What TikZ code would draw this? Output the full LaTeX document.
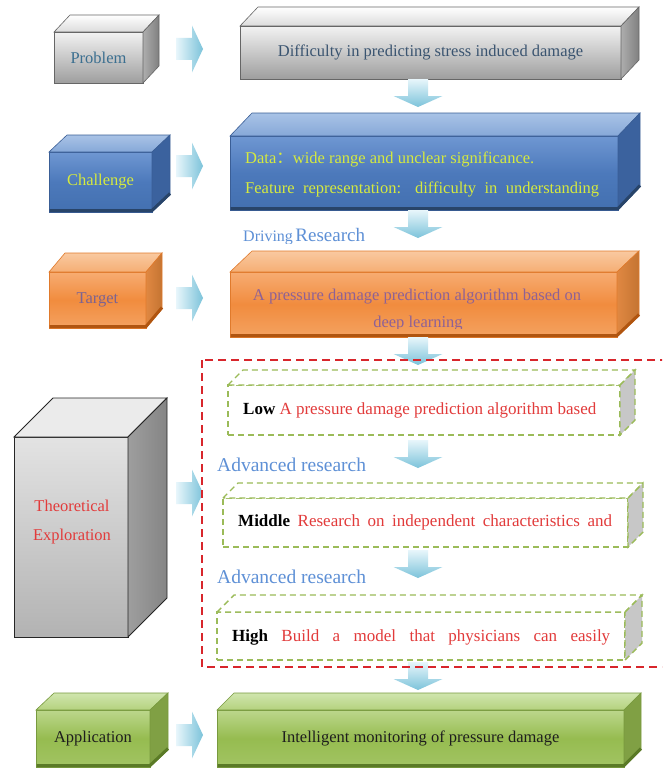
\documentclass[tikz,border=0pt]{standalone}
\usepackage{fontspec}
\setmainfont{Liberation Serif}
\newfontfamily\cjk{Noto Sans CJK SC}
\usetikzlibrary{calc}
\definecolor{probc}{HTML}{3B6F90}
\definecolor{diffc}{HTML}{3A5470}
\definecolor{chalc}{HTML}{D6EA3E}
\definecolor{targc}{HTML}{7C6392}
\definecolor{algc}{HTML}{8E6196}
\definecolor{appc}{HTML}{1E1E1E}
\definecolor{redt}{HTML}{E23B3B}
\definecolor{advc}{HTML}{5E90D6}
\definecolor{arrl}{HTML}{E8F6FB}
\definecolor{arrd}{HTML}{7CC3DA}
\definecolor{reddash}{HTML}{D8262C}
\definecolor{grdash}{HTML}{9BBB59}
\definecolor{bfa}{HTML}{6F97D2}\definecolor{bfb}{HTML}{4C79BB}\definecolor{bfc}{HTML}{4370B0}
\definecolor{bbord}{HTML}{3A5E96}\definecolor{bta}{HTML}{A9C3E6}\definecolor{btb}{HTML}{86A8D8}
\definecolor{bside}{HTML}{3B629E}\definecolor{bstripe}{HTML}{284469}
\definecolor{ofa}{HTML}{F7AC72}\definecolor{ofb}{HTML}{F18C3E}\definecolor{ofc}{HTML}{F4A261}
\definecolor{obord}{HTML}{E07A2C}\definecolor{ota}{HTML}{F9C9A0}\definecolor{otb}{HTML}{F5AE74}
\definecolor{osa}{HTML}{E08842}\definecolor{osb}{HTML}{C47432}\definecolor{ostripe}{HTML}{B05510}
\definecolor{gfa}{HTML}{BCD78C}\definecolor{gfb}{HTML}{96BC50}\definecolor{gfc}{HTML}{A2C463}
\definecolor{gbord}{HTML}{789A3E}\definecolor{gta}{HTML}{D0E5AE}\definecolor{gtb}{HTML}{B4D27E}
\definecolor{gside}{HTML}{80A044}\definecolor{gstripe}{HTML}{5A7A26}
\newcommand\cubetop[4]{\path[#4] (#1.north west) -- ++(#2,-#3) -- ($(#1.north east)+(#2,-#3)$) -- (#1.north east) -- cycle;}
\newcommand\cubeside[4]{\path[#4] (#1.north east) -- ++(#2,-#3) -- ($(#1.south east)+(#2,-#3)$) -- (#1.south east) -- cycle;}
\newcommand\cubestripe[4]{\draw[line width=3pt,#4] ($(#1.south west)+(0.5,-1.5)$) -- ($(#1.south east)+(0,-1.5)$) -- ($(#1.south east)+(#2,-#3-1.5)$);}
\newcommand\rarr[1]{\path[rarrow] (#1) ++(0,-11) -- ++(16,0) -- ++(0,-12.5) -- ++(11,23.5) -- ++(-11,23.5) -- ++(0,-12.5) -- ++(-16,0) -- cycle;}
\newcommand\darr[1]{\path[darrow] (#1) ++(-10,0) -- ++(20,0) -- ++(0,17) -- ++(14.5,0) -- ++(-24.5,11) -- ++(-24.5,-11) -- ++(14.5,0) -- cycle;}
\tikzset{
  txt/.style={font=\fontsize{16.5}{19}\selectfont},
  face/.style={txt, inner sep=0pt, outer sep=0pt, anchor=north west, line width=0.6pt},
  grayfront/.style={face, draw=black!60, top color=black!5, bottom color=black!38},
  graytop/.style={draw=black!60, line width=0.6pt, top color=white, bottom color=black!14},
  grayside/.style={draw=black!60, line width=0.6pt, left color=black!32, right color=black!50},
  bluefront/.style={face, draw=bbord, top color=bfa, bottom color=bfc, middle color=bfb},
  bluetop/.style={draw=bbord, line width=0.6pt, top color=bta, bottom color=btb},
  blueside/.style={draw=bbord, line width=0.6pt, fill=bside},
  orfront/.style={face, draw=obord, top color=ofa, bottom color=ofc, middle color=ofb},
  ortop/.style={draw=obord, line width=0.6pt, top color=ota, bottom color=otb},
  orside/.style={draw=obord, line width=0.6pt, left color=osa, right color=osb},
  grfront/.style={face, draw=gbord, top color=gfa, bottom color=gfc, middle color=gfb},
  grtop/.style={draw=gbord, line width=0.6pt, top color=gta, bottom color=gtb},
  grside/.style={draw=gbord, line width=0.6pt, fill=gside},
  tallfront/.style={face, draw=black!85, line width=0.8pt, top color=black!11, bottom color=black!30},
  talltop/.style={draw=black!85, line width=0.8pt, fill=black!8},
  tallside/.style={draw=black!85, line width=0.8pt, left color=black!38, right color=black!48},
  dfront/.style={face, draw=grdash, line width=1.4pt, dash pattern=on 6pt off 4pt, fill=white},
  dtop/.style={draw=grdash, line width=1.4pt, dash pattern=on 6pt off 4pt, fill=white},
  dside/.style={draw=grdash, line width=1.4pt, dash pattern=on 6pt off 4pt, fill=black!22},
  rarrow/.style={left color=arrl, right color=arrd},
  darrow/.style={top color=arrl, bottom color=arrd},
  lvl/.style={font=\fontsize{17}{19}\selectfont, anchor=west, inner sep=0pt},
  adv/.style={font=\fontsize{19.5}{21}\selectfont, text=advc, anchor=west, inner sep=0pt},
}
\begin{document}
\begin{tikzpicture}[x=1pt,y=-1pt]
\useasboundingbox (0,0) rectangle (662,768);
\clip (0,0) rectangle (662,768);
\fill[white] (0,0) rectangle (662,768);
\coordinate (cx) at (418,0);
% ---------- row 1: problem
\node[grayfront, minimum width=89, minimum height=51, text=probc] (prob) at (54,32) {Problem};
\cubetop{prob}{16}{17}{graytop}
\cubeside{prob}{16}{17}{grayside}
\node[grayfront, minimum width=381, minimum height=53, text=diffc] (diff) at (240,26) {Difficulty in predicting stress induced damage};
\cubetop{diff}{18}{19}{graytop}
\cubeside{diff}{18}{19}{grayside}
% ---------- row 2: challenge
\node[bluefront, minimum width=103, minimum height=60, text=chalc] (chal) at (49,152) {Challenge};
\cubetop{chal}{18}{17}{bluetop}
\cubeside{chal}{18}{17}{blueside}
\cubestripe{chal}{18}{17}{bstripe}
\node[bluefront, minimum width=388, minimum height=74] (data) at (230,136) {};
\cubetop{data}{22}{23}{bluetop}
\cubeside{data}{22}{23}{blueside}
\cubestripe{data}{22}{23}{bstripe}
\node[txt, text=chalc, anchor=west, inner sep=0pt] (d1) at (245,159) {Data{\cjk ：}wide range and unclear significance.};
\node[txt, text=chalc, anchor=west, inner sep=0pt] (d2) at (245,189) {\makebox[354pt][s]{Feature representation: difficulty in understanding}};
\begin{scope}
\clip (230,220) rectangle (400,243);
\node[text=advc, anchor=base west, inner sep=0pt] (drv) at (243,241.5) {{\fontsize{16}{16}\selectfont Driving} {\fontsize{19}{19}\selectfont Research}};
\end{scope}
% ---------- row 3: target
\node[orfront, minimum width=97, minimum height=56, text=targc] (targ) at (49,272) {Target};
\cubetop{targ}{16}{19}{ortop}
\cubeside{targ}{16}{19}{orside}
\cubestripe{targ}{16}{19}{ostripe}
\node[orfront, minimum width=387, minimum height=65] (alg) at (230,272) {};
\cubetop{alg}{22}{21}{ortop}
\cubeside{alg}{22}{21}{orside}
\cubestripe{alg}{22}{21}{ostripe}
\node[txt, text=algc, inner sep=0pt] (a1) at (417,297) {A pressure damage prediction algorithm based on};
\begin{scope}
\clip (230,305) rectangle (617,328);
\node[txt, text=algc, anchor=base, inner sep=0pt] (a2) at (418,327.5) {deep learning};
\end{scope}
% ---------- row 4: theoretical exploration
\node[tallfront, minimum width=114, minimum height=200] (theo) at (14,437) {};
\cubetop{theo}{39}{39}{talltop}
\cubeside{theo}{39}{39}{tallside}
\node[txt, text=redt, align=center, inner sep=0pt] (theotxt) at (72,522) {Theoretical\\[10pt]Exploration};
\node[dfront, minimum width=392, minimum height=50] (low) at (228,385) {};
\cubetop{low}{15}{15}{dtop}
\cubeside{low}{15}{15}{dside}
\node[lvl] (lowt) at (243,410) {\textbf{Low} \textcolor{redt}{A pressure damage prediction algorithm based}};
\node[adv] (adv1) at (217,465) {Advanced research};
\node[dfront, minimum width=405, minimum height=49] (mid) at (223,498) {};
\cubetop{mid}{15}{15}{dtop}
\cubeside{mid}{15}{15}{dside}
\node[lvl] (midt) at (238,522) {\makebox[374pt][s]{\textbf{Middle} \textcolor{redt}{Research on independent characteristics and}}};
\node[adv] (adv2) at (217,577) {Advanced research};
\node[dfront, minimum width=408, minimum height=48] (high) at (217,612) {};
\cubetop{high}{17}{17}{dtop}
\cubeside{high}{17}{17}{dside}
\node[lvl] (hight) at (232,637) {\makebox[378pt][s]{\textbf{High} \textcolor{redt}{Build a model that physicians can easily}}};
% ---------- row 5: application
\node[grfront, minimum width=114, minimum height=57, text=appc] (app) at (36,710) {Application};
\cubetop{app}{18}{17}{grtop}
\cubeside{app}{18}{17}{grside}
\cubestripe{app}{18}{17}{gstripe}
\node[grfront, minimum width=407, minimum height=57, text=appc] (mon) at (217,710) {Intelligent monitoring of pressure damage};
\cubetop{mon}{17}{17}{grtop}
\cubeside{mon}{17}{17}{grside}
\cubestripe{mon}{17}{17}{gstripe}
% ---------- block arrows
\coordinate (ra1) at (176,49);
\coordinate (ra2) at (176,166);
\coordinate (ra3) at (176,298);
\coordinate (ra4) at (176,493);
\coordinate (ra5) at (176,735);
\rarr{ra1}\rarr{ra2}\rarr{ra3}\rarr{ra4}\rarr{ra5}
\darr{cx |- diff.south}
\darr{cx |- data.south}
\darr{cx |- alg.south}
\darr{$(cx |- low.south)+(0,5)$}
\darr{$(cx |- mid.south)+(0,3)$}
\darr{$(cx |- high.south)+(0,2)$}
% ---------- red dashed frame
\draw[reddash, line width=2.2pt, dash pattern=on 8pt off 5pt] (202,360) rectangle (700,667);
\end{tikzpicture}
\end{document}
